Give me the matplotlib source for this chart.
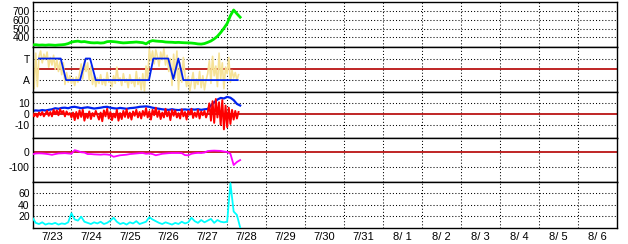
import numpy as np
import matplotlib.pyplot as plt

plt.rcParams['font.family'] = ['Liberation Sans', 'DejaVu Sans']
plt.rcParams['axes.unicode_minus'] = False

# all series are sampled from 7/23 00:00, time in hours
STEP2 = 2   # two-hourly series
STEP1 = 1   # hourly series

green_vals = [312, 315, 310, 312, 309, 313, 311, 308, 312, 314, 318, 328,
              345, 352, 356, 348, 351, 344, 338, 336, 338, 334, 337, 350,
              353, 350, 346, 340, 336, 338, 341, 343, 346, 342, 338, 325,
              350, 362, 357, 354, 352, 346, 344, 343, 340, 342, 339, 337,
              336, 334, 330, 324, 322, 328, 342,
              358, 382, 412, 455, 505, 560, 650, 715, 672, 632]

# T/A state: breakpoints (hour, level) with T = 1, A = -1
state_t = [4, 17.4, 20.7, 29.3, 32.8, 35.5, 39, 71.8, 74.5, 83.7, 86.8, 89.9, 93, 126.5]
state_v = [1, 1, -1, -1, 1, 1, -1, -1, 1, 1, -0.9, 1, -1, -1]

yellow_vals = [1.8, -1.8, 1.5, -1.6, 1.2, 1.7, 0.6, 1.4, 0.9,
               1.6, 0.2, 1.1, 0.4, 1.3, 0.0, 0.9, -0.2, 0.7,
               -0.5, 0.6, -1.4, -0.3, -1.2,
               -0.6, -1.3, -0.8, -1.5, -0.7, -1.2, -0.4,
               0.5, -0.9, 0.8, -0.2, 0.6, -1.0, 0.3, -1.4, -0.6, -1.6,
               -0.8, -1.3, -0.5, -1.4, -0.9, -1.5, -0.3, -1.2, -1.0, -1.6,
               -0.6, -1.3, 0.2, -1.1, -0.8, -1.5, -0.4, -1.2, -0.9, -1.7,
               -0.5, -1.3, -1.0, -1.6, -0.2, -1.4, -0.8,
               -1.9, -0.4, -2.0, 0.3, -1.0,
               1.9, 0.8, 1.7, 0.5, 1.8, 1.2, 0.3, 1.6, 0.9, 1.9, 0.4, 1.3, -0.2, 1.0,
               -1.5, 1.4, -0.8, 1.7, -1.9, 0.6, -1.2, 1.1, -0.5,
               -1.6, -0.7, -2.0, -1.1, -0.3, -1.8, -0.9, -1.4, -0.2, -1.7, -0.6, -1.9, -1.0, -0.4,
               0.8, -1.3, 1.2, -0.6, 0.3, -1.6, 1.5, -0.9, 0.6, -1.8, 0.2, -0.4, 1.1, -1.2,
               -0.1, -0.8, -0.3, -1.0, -0.5]

blue_vals = [3.0, 3.5, 3.2, 3.8, 3.4, 4.0, 4.5, 5.5, 5.0, 5.8, 6.0, 5.5,
             6.5, 6.8, 6.2, 5.5, 6.0, 6.4, 5.8, 5.2, 5.6, 6.0, 6.6, 6.8,
             6.0, 5.5, 5.2, 5.8, 5.4, 5.0, 5.6, 5.8, 6.2, 6.8, 7.0, 7.2,
             6.8, 6.0, 5.5, 5.0, 4.5, 4.2, 4.0, 4.6, 4.0, 3.8, 4.2, 4.4,
             4.0, 4.5, 4.2, 4.6, 4.0, 4.5, 4.8,
             8.0, 11.0, 13.5, 15.0, 14.5, 16.0, 15.2, 13.0, 9.5, 8.0]

red_vals = [1, -2, 0.5, -2.5, 1.5, -1, 2, -2, 0.5,
            3, -1.5, 2, -2, 4, 0, 3.5, -1, 4.5, 1, 3, -2, 2.5, -0.5, 1,
            -3, 1.5, -5.5, 2, -4, 3.5, -2.5, 4, -6, 0.5, -3.5, 2.5, -4.5, 1, -2, 3, -1,
            -5, 1.5, -6.5, 3.5, -2, 5, -4, 2, -5.5, 0.5, -3, 4, -6, 1, -4.5, 3, -2.5,
            4.5, -3.5, 1.5, -5, 2.5, -1.5, 4, -3, 2,
            -4, 3, -1.5, 5.5, -3, 2.5, -5, 4, -1, 6, -2.5, 3, -4.5, 1.5, -3, 5, -2,
            2.5, -5.5, 4, -1.5, 3.5, -3, 1, -4, 4.5, -2, 2, -5, 3, -0.5, 5, -3.5,
            1.5, -2.5, 4, -4, 2.5, -1, 3, -3, 1.5,
            10, -6, 12, -8, 14, -3, 11, -10, 13, -14, 8, -12, 6, -9, 4, -5, 3, -4, 2]

magenta_vals = [-13, -8, -7, -8, -10, -13, -17, -12, -8, -7, -6, -8,
                -10, 14, 8, 0, -2, -12, -12, -14, -15, -16, -14, -15,
                -18, -30, -25, -20, -18, -16, -12, -10, -8, -6, -5, -10,
                -8, -12, -20, -15, -10, -8, -6, -5, -5, -5, -6, -19,
                -20, -10, -6, -4, -5, -2, 8,
                10, 11, 10, 9, 5, 2, -10, -85, -65, -52]

cyan_vals = [17, 8, 6, 9, 5, 7, 6, 8, 5, 7, 6, 9,
             25, 14, 12, 19, 10, 8, 6, 9, 7, 10, 6, 8,
             12, 17, 10, 6, 8, 5, 9, 7, 11, 6, 8, 10,
             18, 14, 11, 8, 6, 9, 7, 5, 8, 6, 10, 7,
             9, 17, 11, 8, 13, 9, 12,
             15, 8, 13, 10, 9, 10, 78, 28, 22, 0]

day_labels = ['7/23', '7/24', '7/25', '7/26', '7/27', '7/28', '7/29', '7/30',
              '7/31', '8/ 1', '8/ 2', '8/ 3', '8/ 4', '8/ 5', '8/ 6']


def hours(vals, step):
    return np.arange(len(vals)) * step


W, H = 628, 244
fig = plt.figure(figsize=(W / 100, H / 100), dpi=100)
left, right = 32.5, 616.5
edges = [2.2, 47.3, 92.3, 137.7, 182.3, 227.7]

dot = (0, (1, 2))
zero_red = '#b40000'

axes = []
for i in range(5):
    top, bot = edges[i], edges[i + 1]
    ax = fig.add_axes([left / W, 1 - bot / H, (right - left) / W, (bot - top) / H])
    ax.set_xlim(0, 24 * len(day_labels))
    for s in ax.spines.values():
        s.set_linewidth(1.0)
        s.set_color('black')
    ax.tick_params(length=0, labelsize=7.5, pad=2)
    ax.set_xticks([])
    for d in range(1, len(day_labels)):
        ax.axvline(24 * d, color='black', lw=0.75, ls=dot, zorder=1)
    axes.append(ax)

ax1, ax2, ax3, ax4, ax5 = axes

# panel 1: green
ax1.set_ylim(285, 805)
ax1.set_yticks([400, 500, 600, 700])
for v in [400, 500, 600, 700]:
    ax1.axhline(v, color='black', lw=0.75, ls=dot, zorder=1)
ax1.plot(hours(green_vals, STEP2), green_vals, color='#00ee00', lw=2.0, zorder=3)

# panel 2: T/A
ax2.set_ylim(-2.13, 2.04)
ax2.set_yticks([1, -1])
ax2.set_yticklabels(['T', 'A'])
for v in [1, -1]:
    ax2.axhline(v, color='black', lw=0.75, ls=dot, zorder=1)
ax2.axhline(0, color=zero_red, lw=1.2, zorder=1.5)
ax2.plot(hours(yellow_vals, STEP1), yellow_vals, color='#f6e296', lw=1.2, zorder=2)
ax2.plot(state_t, state_v, color='#0022ee', lw=1.3, zorder=3)

# panel 3: blue / red
ax3.set_ylim(-21.7, 20.2)
ax3.set_yticks([10, 0, -10])
for v in [10, -10]:
    ax3.axhline(v, color='black', lw=0.75, ls=dot, zorder=1)
ax3.axhline(0, color=zero_red, lw=1.2, zorder=1.5)
ax3.plot(hours(blue_vals, STEP2), blue_vals, color='#0022ee', lw=1.6, zorder=2)
ax3.plot(hours(red_vals, STEP1), red_vals, color='#ff0000', lw=1.4, zorder=3)

# panel 4: magenta
ax4.set_ylim(-200, 97)
ax4.set_yticks([0, -100])
ax4.axhline(-100, color='black', lw=0.75, ls=dot, zorder=1)
ax4.axhline(0, color=zero_red, lw=1.2, zorder=1.5)
ax4.plot(hours(magenta_vals, STEP2), magenta_vals, color='#ff00ff', lw=1.3, zorder=3)

# panel 5: cyan
ax5.set_ylim(-0.5, 79.5)
ax5.set_yticks([20, 40, 60])
for v in [20, 40, 60]:
    ax5.axhline(v, color='black', lw=0.75, ls=dot, zorder=1)
ax5.plot(hours(cyan_vals, STEP2), cyan_vals, color='#00ffff', lw=1.3, zorder=3)
ax5.set_xticks([24 * d + 12 for d in range(len(day_labels))])
ax5.set_xticklabels(day_labels)
ax5.tick_params(axis='x', labelsize=8, pad=3)

fig.savefig('out.png', dpi=100)
